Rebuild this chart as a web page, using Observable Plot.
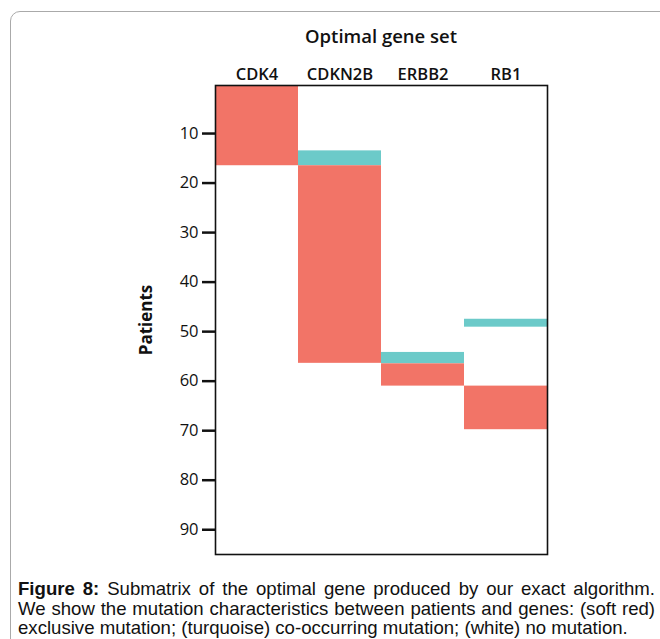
<!DOCTYPE html>
<html>
<head>
<meta charset="utf-8">
<script src="https://cdn.jsdelivr.net/npm/d3@7"></script>
<script src="https://cdn.jsdelivr.net/npm/@observablehq/plot@0.6"></script>
<style>
  html, body { margin: 0; padding: 0; background: #fff; width: 660px; height: 639px; overflow: hidden; }
  #page { position: relative; width: 660px; height: 639px; }
  #box { position: absolute; left: 10px; top: 11px; width: 700px; height: 700px; border: 1.5px solid #aaa; border-radius: 10px; box-sizing: border-box; }
  #title { position: absolute; left: 215px; width: 332px; top: 23px; text-align: center; font-family: "Open Sans", sans-serif; font-weight: 600; font-size: 18.5px; color: #111; }
  #chart { position: absolute; left: 0; top: 0; }
  #caption { position: absolute; left: 18px; top: 579px; width: 637px; font-family: "Liberation Sans", Arial, sans-serif; font-size: 18.6px; line-height: 19.5px; color: #111; }
  #caption div { white-space: nowrap; }
  #caption .j { text-align: justify; text-align-last: justify; white-space: normal; }
  g[aria-label="y-axis label"] text { font-weight: 700; font-size: 17px; }
  g[aria-label="x-axis tick label"] text { font-weight: 600; font-size: 16.5px; }
  g[aria-label="y-axis tick label"] text { font-size: 16.5px; }
</style>
</head>
<body>
<div id="page">
  <div id="box"></div>
  <div id="title">Optimal gene set</div>
  <div id="chart"></div>
  <div id="caption">
    <div class="j"><b>Figure 8:</b> Submatrix of the optimal gene produced by our exact algorithm.</div>
    <div class="j">We show the mutation characteristics between patients and genes: (soft red)</div>
    <div>exclusive mutation; (turquoise) co-occurring mutation; (white) no mutation.</div>
  </div>
</div>
<script>
const genes = ["CDK4", "CDKN2B", "ERBB2", "RB1"];
const blockGene  = ["CDK4", "CDKN2B", "CDKN2B", "ERBB2", "ERBB2", "RB1", "RB1"];
const blockStart = [0.3, 13.5, 16.5, 54.2, 56.5, 47.5, 61.0];
const blockEnd   = [16.5, 16.5, 56.4, 56.5, 61.0, 49.1, 69.8];
const blockType  = ["exclusive", "co-occurring", "exclusive", "co-occurring", "exclusive", "co-occurring", "exclusive"];
const yTicks = [10, 20, 30, 40, 50, 60, 70, 80, 90];

const blocks = blockGene.map((g, i) => ({gene: g, start: blockStart[i], end: blockEnd[i], type: blockType[i]}));

const chart = Plot.plot({
  width: 660,
  height: 570,
  marginLeft: 215,
  marginRight: 113,
  marginTop: 85,
  marginBottom: 16,
  style: {fontFamily: "'Open Sans', sans-serif", fontSize: "14px", color: "#111", background: "transparent"},
  x: {domain: genes, padding: 0, axis: null},
  y: {domain: [0.3, 95], reverse: true, axis: null},
  color: {domain: ["exclusive", "co-occurring"], range: ["#f27467", "#6ccac9"]},
  marks: [
    Plot.barY(blocks, {x: "gene", y1: "start", y2: "end", fill: "type", inset: 0}),
    Plot.axisX({anchor: "top", tickSize: 0, tickPadding: 6, label: null}),
    Plot.axisY(yTicks, {anchor: "left", tickSize: 13, tickPadding: 4, strokeWidth: 2.5, label: "Patients", labelAnchor: "center", labelArrow: "none", labelOffset: 76}),
    Plot.frame({stroke: "#111", strokeWidth: 1.6})
  ]
});
document.getElementById("chart").appendChild(chart);
</script>
</body>
</html>
